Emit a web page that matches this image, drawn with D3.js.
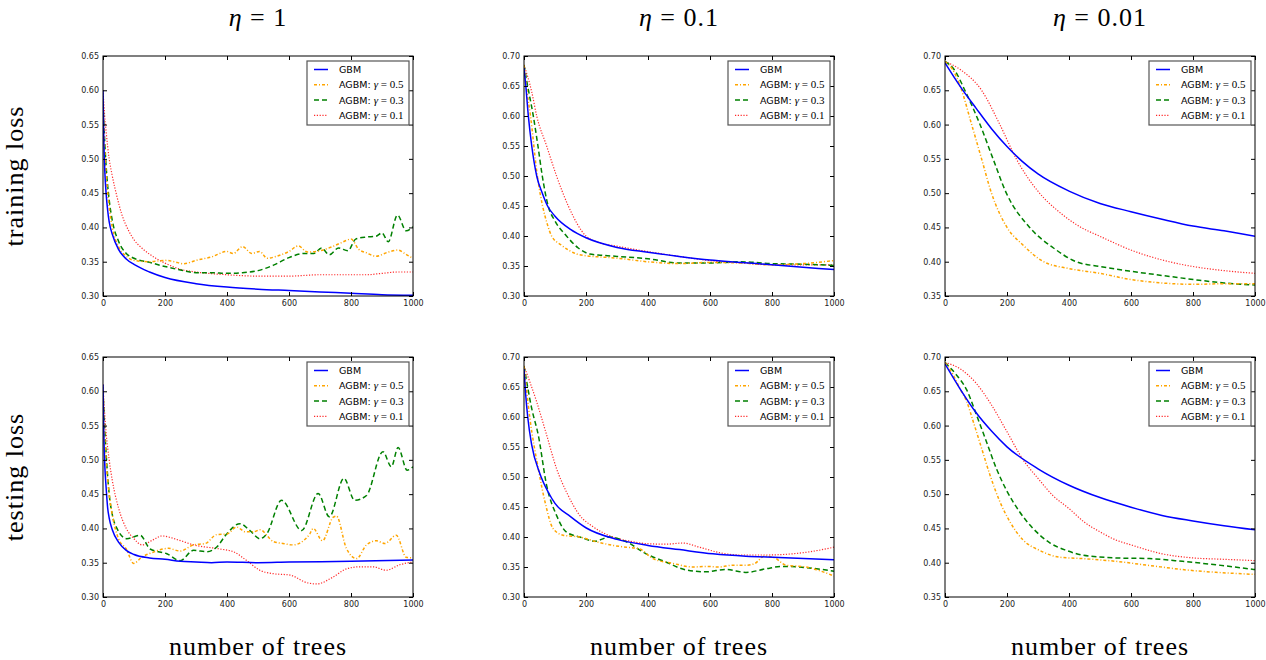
<!DOCTYPE html>
<html>
<head>
<meta charset="utf-8">
<script src="https://cdn.jsdelivr.net/npm/d3@7"></script>
<style>
  body { margin: 0; background: #fff; }
  .tick text { font-family: "DejaVu Sans", sans-serif; font-size: 8px; fill: #222; }
  .tick line { stroke: #000; }
  .domain { display: none; }
  .big { font-family: "Liberation Serif", serif; font-size: 26px; letter-spacing: 1px; }
</style>
</head>
<body>
<script>
// column / row labels
var etaLabels = ["1", "0.1", "0.01"];
var rowLabels = ["training loss", "testing loss"];
var seriesNames = ["GBM", "AGBM: ", "AGBM: ", "AGBM: "];
var gammaLabels = [null, "0.5", "0.3", "0.1"];
var xTicks = [0, 200, 400, 600, 800, 1000];
var yDomains = [[0.30, 0.65], [0.30, 0.70], [0.35, 0.70]];

// training loss, eta = 1
var trA_gbm = [[0,0.60],[3,0.52],[6,0.48],[10,0.45],[15,0.425],[20,0.408],[30,0.39],[50,0.368],[75,0.354],[100,0.346],[150,0.335],[200,0.327],[300,0.318],[400,0.313],[500,0.310],[600,0.308],[700,0.306],[800,0.304],[900,0.302],[1000,0.301]];
var trA_g5 = [[0,0.58],[5,0.52],[10,0.48],[20,0.43],[30,0.40],[50,0.372],[75,0.358],[100,0.352],[150,0.350],[200,0.352],[230,0.350],[260,0.347],[300,0.352],[350,0.357],[400,0.365],[420,0.362],[450,0.372],[480,0.362],[505,0.365],[530,0.355],[560,0.358],[600,0.365],[630,0.373],[660,0.364],[700,0.366],[740,0.372],[770,0.378],[800,0.383],[825,0.368],[850,0.363],[880,0.358],[920,0.364],[950,0.367],[980,0.360],[1000,0.355]];
var trA_g3 = [[0,0.58],[5,0.53],[10,0.49],[20,0.44],[30,0.41],[50,0.38],[75,0.362],[100,0.355],[150,0.349],[200,0.343],[250,0.338],[300,0.334],[350,0.334],[400,0.333],[450,0.334],[500,0.337],[550,0.345],[600,0.356],[650,0.362],[680,0.362],[705,0.370],[730,0.360],[760,0.370],[790,0.366],[815,0.383],[850,0.386],[880,0.387],[900,0.392],[920,0.379],[950,0.418],[978,0.395],[1000,0.401]];
var trA_g1 = [[0,0.60],[5,0.565],[10,0.54],[20,0.50],[30,0.475],[45,0.445],[60,0.42],[83,0.395],[100,0.382],[125,0.37],[150,0.361],[200,0.348],[250,0.339],[300,0.335],[400,0.331],[500,0.329],[600,0.329],[700,0.331],[800,0.331],[850,0.331],[900,0.333],[950,0.335],[1000,0.335]];

// training loss, eta = 0.1
var trB_gbm = [[0,0.68],[5,0.655],[14,0.60],[25,0.55],[41,0.50],[60,0.47],[76,0.45],[100,0.433],[150,0.411],[200,0.397],[300,0.381],[400,0.373],[500,0.366],[600,0.36],[700,0.356],[800,0.352],[900,0.348],[1000,0.344]];
var trB_g5 = [[0,0.685],[10,0.64],[21,0.60],[43,0.50],[60,0.45],[75,0.42],[89,0.40],[120,0.385],[170,0.37],[200,0.367],[250,0.365],[300,0.363],[400,0.357],[500,0.354],[600,0.356],[700,0.355],[800,0.352],[900,0.354],[1000,0.359]];
var trB_g3 = [[0,0.685],[10,0.655],[30,0.60],[45,0.55],[59,0.50],[78,0.45],[100,0.425],[137,0.40],[175,0.38],[212,0.37],[250,0.368],[300,0.366],[400,0.362],[500,0.355],[600,0.355],[700,0.357],[800,0.354],[900,0.353],[1000,0.351]];
var trB_g1 = [[0,0.685],[25,0.64],[41,0.60],[73,0.55],[105,0.50],[143,0.45],[200,0.40],[250,0.388],[300,0.383],[400,0.374],[500,0.366],[600,0.359],[700,0.355],[800,0.352],[900,0.352],[1000,0.352]];

// training loss, eta = 0.01
var trC_gbm = [[0,0.69],[50,0.655],[100,0.624],[150,0.594],[200,0.568],[250,0.546],[300,0.528],[400,0.503],[500,0.485],[600,0.473],[700,0.462],[800,0.452],[900,0.445],[1000,0.437]];
var trC_g5 = [[0,0.692],[25,0.68],[50,0.655],[86,0.60],[118,0.55],[150,0.50],[200,0.45],[250,0.425],[318,0.40],[400,0.39],[500,0.383],[600,0.374],[700,0.369],[800,0.367],[900,0.368],[1000,0.368]];
var trC_g3 = [[0,0.692],[30,0.68],[64,0.65],[113,0.60],[155,0.55],[198,0.50],[273,0.45],[350,0.42],[423,0.40],[500,0.393],[600,0.386],[700,0.380],[820,0.373],[900,0.369],[1000,0.366]];
var trC_g1 = [[0,0.692],[50,0.68],[118,0.65],[177,0.60],[230,0.55],[305,0.50],[370,0.472],[439,0.45],[500,0.437],[600,0.417],[723,0.40],[800,0.393],[900,0.387],[1000,0.383]];

// testing loss, eta = 1
var teA_gbm = [[0,0.61],[3,0.53],[6,0.49],[10,0.46],[15,0.43],[20,0.415],[30,0.398],[50,0.38],[75,0.368],[100,0.362],[150,0.357],[200,0.355],[250,0.352],[300,0.351],[350,0.350],[400,0.351],[500,0.350],[600,0.351],[800,0.352],[1000,0.354]];
var teA_g5 = [[0,0.60],[5,0.54],[10,0.50],[20,0.45],[30,0.42],[50,0.385],[75,0.37],[99,0.349],[125,0.358],[160,0.365],[211,0.371],[249,0.367],[292,0.376],[330,0.378],[367,0.391],[400,0.392],[431,0.402],[460,0.395],[485,0.395],[506,0.398],[549,0.381],[580,0.378],[614,0.376],[640,0.38],[667,0.392],[678,0.40],[708,0.382],[742,0.416],[753,0.418],[785,0.371],[818,0.356],[850,0.376],[882,0.382],[909,0.378],[946,0.39],[978,0.358],[1000,0.357]];
var teA_g3 = [[0,0.60],[5,0.55],[10,0.51],[20,0.45],[30,0.42],[45,0.40],[77,0.385],[120,0.39],[152,0.37],[206,0.363],[249,0.353],[292,0.368],[335,0.366],[367,0.373],[399,0.392],[442,0.407],[474,0.397],[506,0.385],[528,0.392],[576,0.441],[641,0.397],[694,0.451],[730,0.417],[777,0.473],[812,0.441],[850,0.448],[903,0.512],[930,0.49],[952,0.518],[981,0.485],[1000,0.49]];
var teA_g1 = [[0,0.61],[5,0.57],[10,0.54],[20,0.50],[30,0.47],[50,0.43],[75,0.40],[100,0.385],[126,0.376],[160,0.383],[190,0.389],[244,0.383],[292,0.376],[378,0.37],[421,0.366],[464,0.353],[506,0.339],[549,0.334],[603,0.332],[657,0.321],[689,0.319],[742,0.329],[785,0.341],[828,0.344],[871,0.344],[914,0.339],[957,0.347],[1000,0.351]];

// testing loss, eta = 0.1
var teB_gbm = [[0,0.68],[5,0.64],[12,0.60],[25,0.553],[51,0.506],[78,0.475],[100,0.456],[150,0.434],[201,0.415],[300,0.396],[400,0.386],[502,0.379],[609,0.372],[716,0.368],[823,0.366],[1000,0.362]];
var teB_g5 = [[0,0.685],[19,0.598],[46,0.514],[68,0.458],[94,0.414],[126,0.403],[180,0.40],[234,0.392],[287,0.386],[330,0.383],[373,0.38],[416,0.364],[480,0.356],[545,0.35],[587,0.351],[630,0.35],[673,0.353],[716,0.353],[745,0.356],[775,0.368],[805,0.366],[845,0.353],[909,0.35],[1000,0.335]];
var teB_g3 = [[0,0.685],[25,0.614],[46,0.57],[73,0.486],[105,0.436],[137,0.408],[180,0.40],[228,0.393],[276,0.40],[330,0.392],[394,0.372],[459,0.358],[523,0.345],[587,0.342],[651,0.346],[716,0.341],[780,0.347],[834,0.351],[909,0.349],[1000,0.343]];
var teB_g1 = [[0,0.685],[41,0.625],[73,0.57],[105,0.514],[137,0.475],[180,0.436],[223,0.417],[287,0.40],[341,0.393],[394,0.389],[459,0.388],[512,0.39],[566,0.383],[630,0.374],[694,0.37],[780,0.37],[866,0.372],[930,0.376],[1000,0.383]];

// testing loss, eta = 0.01
var teC_gbm = [[0,0.69],[48,0.654],[100,0.619],[150,0.592],[200,0.569],[300,0.537],[400,0.513],[500,0.495],[600,0.481],[700,0.469],[800,0.461],[900,0.454],[1000,0.448]];
var teC_g5 = [[0,0.692],[25,0.675],[48,0.654],[70,0.635],[91,0.606],[118,0.567],[145,0.528],[177,0.489],[209,0.46],[252,0.433],[305,0.418],[370,0.408],[445,0.406],[552,0.402],[659,0.396],[766,0.39],[874,0.386],[1000,0.383]];
var teC_g3 = [[0,0.692],[35,0.675],[70,0.652],[102,0.615],[134,0.576],[166,0.537],[198,0.506],[241,0.474],[284,0.45],[338,0.429],[391,0.418],[445,0.411],[552,0.407],[659,0.406],[766,0.402],[874,0.397],[1000,0.39]];
var teC_g1 = [[0,0.692],[48,0.683],[100,0.662],[150,0.63],[200,0.591],[252,0.55],[300,0.523],[348,0.498],[400,0.479],[450,0.459],[500,0.445],[552,0.433],[600,0.426],[700,0.413],[800,0.407],[900,0.405],[1000,0.403]];

var panelData = [
  [[trA_gbm, trA_g5, trA_g3, trA_g1], [trB_gbm, trB_g5, trB_g3, trB_g1], [trC_gbm, trC_g5, trC_g3, trC_g1]],
  [[teA_gbm, teA_g5, teA_g3, teA_g1], [teB_gbm, teB_g5, teB_g3, teB_g1], [teC_gbm, teC_g5, teC_g3, teC_g1]]
];

var styles = [
  {color: "#0000ff", width: 1.5, dash: null},
  {color: "#ffa500", width: 1.5, dash: "3,2,1,2"},
  {color: "#008000", width: 1.5, dash: "5,3"},
  {color: "#ff2a2a", width: 1.2, dash: "1.2,1.6"}
];

var width = 1266, height = 660;
var colLeft = [103, 524, 945], rowTop = [56, 357];
var pw = 310, ph = 240;

var svg = d3.select("body").append("svg")
    .attr("width", width)
    .attr("height", height);

var line = d3.line().curve(d3.curveMonotoneX);

for (var r = 0; r < 2; r++) {
  for (var c = 0; c < 3; c++) {
    var g = svg.append("g").attr("transform", "translate(" + colLeft[c] + "," + rowTop[r] + ")");
    var x = d3.scaleLinear().domain([0, 1000]).range([0, pw]);
    var y = d3.scaleLinear().domain(yDomains[c]).range([ph, 0]);
    var yTicks = d3.range(yDomains[c][0], yDomains[c][1] + 0.001, 0.05);

    var clipId = "clip" + r + c;
    g.append("clipPath").attr("id", clipId)
      .append("rect").attr("width", pw).attr("height", ph);

    var lines = g.append("g").attr("clip-path", "url(#" + clipId + ")");
    line.x(function(d) { return x(d[0]); }).y(function(d) { return y(d[1]); });
    // draw in reverse so GBM is on top
    for (var s = 3; s >= 0; s--) {
      lines.append("path")
        .datum(panelData[r][c][s])
        .attr("fill", "none")
        .attr("stroke", styles[s].color)
        .attr("stroke-width", styles[s].width)
        .attr("stroke-dasharray", styles[s].dash)
        .attr("d", line);
    }

    g.append("g").attr("transform", "translate(0," + ph + ")")
      .call(d3.axisBottom(x).tickValues(xTicks).tickSize(-4).tickPadding(4).tickFormat(d3.format("d")));
    g.append("g")
      .call(d3.axisTop(x).tickValues(xTicks).tickSize(-4).tickFormat(""));
    g.append("g")
      .call(d3.axisLeft(y).tickValues(yTicks).tickSize(-4).tickPadding(4).tickFormat(d3.format(".2f")));
    g.append("g").attr("transform", "translate(" + pw + ",0)")
      .call(d3.axisRight(y).tickValues(yTicks).tickSize(-4).tickFormat(""));

    g.append("rect").attr("width", pw).attr("height", ph)
      .attr("fill", "none").attr("stroke", "#000").attr("stroke-width", 1);

    // legend
    var lg = g.append("g").attr("transform", "translate(" + (pw - 106) + ",5)");
    lg.append("rect").attr("width", 102).attr("height", 64)
      .attr("fill", "#fff").attr("stroke", "#555").attr("stroke-width", 1.2);
    for (var k = 0; k < 4; k++) {
      var ly = 8.5 + k * 15.3;
      lg.append("line").attr("x1", 7).attr("x2", 21).attr("y1", ly).attr("y2", ly)
        .attr("stroke", styles[k].color).attr("stroke-width", styles[k].width)
        .attr("stroke-dasharray", styles[k].dash);
      var t = lg.append("text").attr("x", 32).attr("y", ly + 3.4)
        .style("font-family", "DejaVu Sans, sans-serif").style("font-size", "9.5px")
        .text(seriesNames[k]);
      if (gammaLabels[k]) {
        t.append("tspan").style("font-family", "Liberation Serif, serif").style("font-style", "italic")
          .style("font-size", "11px").text("γ");
        t.append("tspan").style("font-family", "Liberation Serif, serif")
          .style("font-size", "11px").text(" = " + gammaLabels[k]);
      }
    }
  }
}

// column titles
for (var c = 0; c < 3; c++) {
  var tt = svg.append("text").attr("class", "big")
    .attr("x", colLeft[c] + pw / 2).attr("y", 26)
    .attr("text-anchor", "middle");
  tt.append("tspan").style("font-style", "italic").text("η");
  tt.append("tspan").text(" = " + etaLabels[c]);

  svg.append("text").attr("class", "big")
    .attr("x", colLeft[c] + pw / 2).attr("y", 655)
    .attr("text-anchor", "middle")
    .text("number of trees");
}

// row labels
for (var r = 0; r < 2; r++) {
  svg.append("text").attr("class", "big")
    .attr("transform", "translate(23," + (rowTop[r] + ph / 2) + ") rotate(-90)")
    .attr("text-anchor", "middle")
    .text(rowLabels[r]);
}
</script>
</body>
</html>
